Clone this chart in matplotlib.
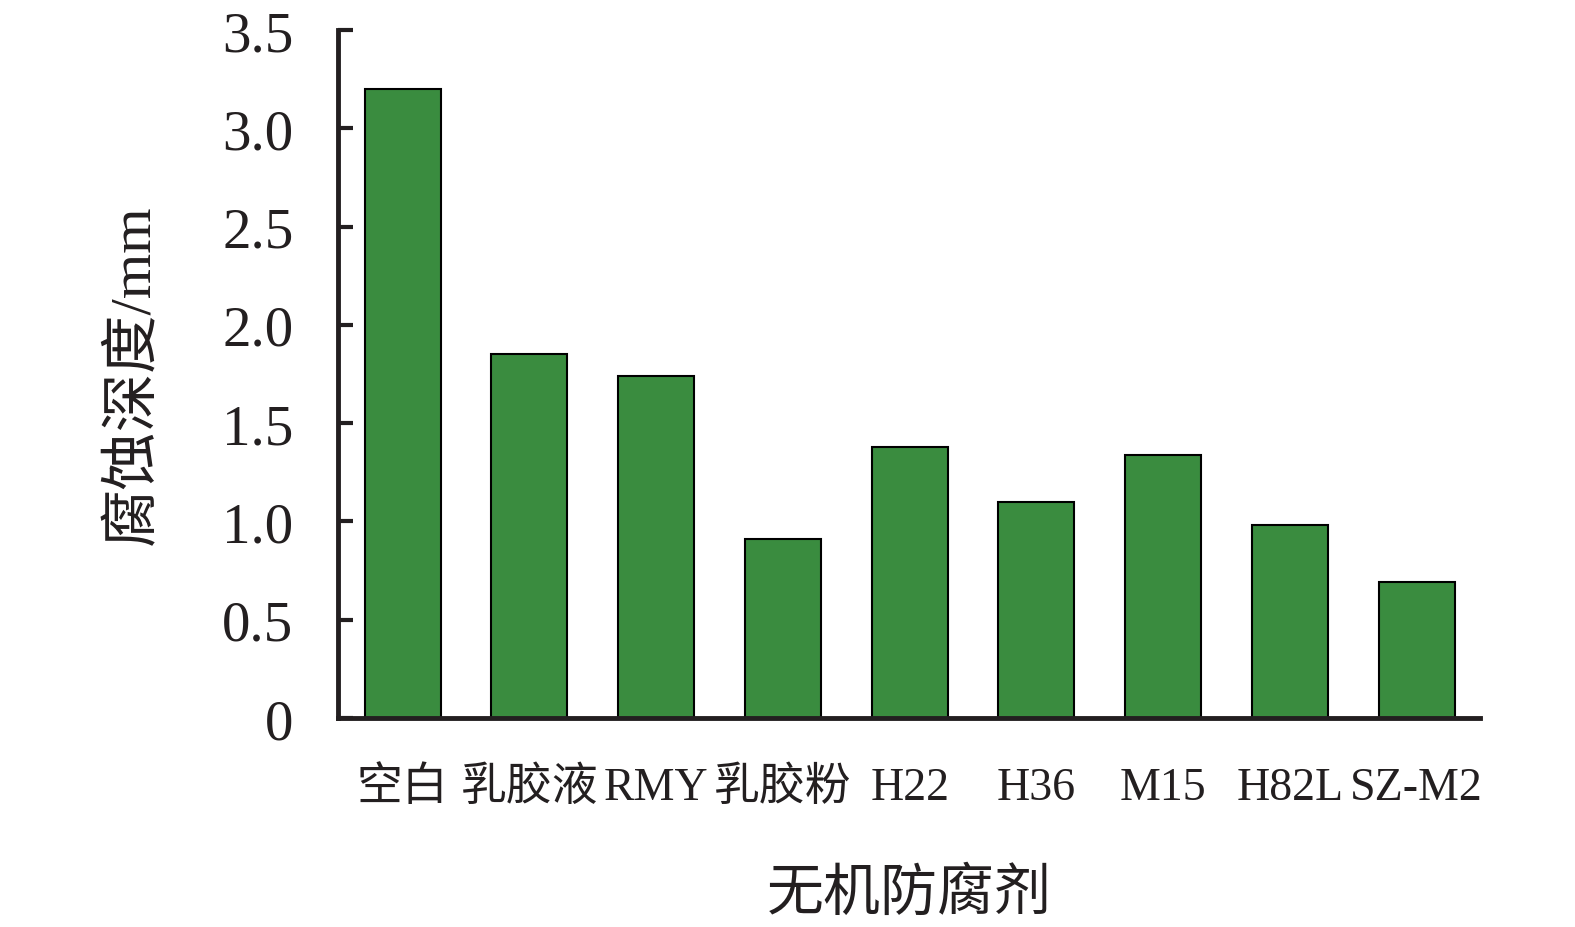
import matplotlib.pyplot as plt

plt.rcParams['font.family'] = ['Liberation Serif', 'Noto Sans CJK SC']

# Data
agents = ['空白', '乳胶液', 'RMY', '乳胶粉', 'H22', 'H36', 'M15', 'H82L', 'SZ-M2']
depth = [3.20, 1.85, 1.74, 0.91, 1.38, 1.10, 1.34, 0.98, 0.69]
y_ticks = [0, 0.5, 1.0, 1.5, 2.0, 2.5, 3.0, 3.5]
y_tick_labels = ['0', '0.5', '1.0', '1.5', '2.0', '2.5', '3.0', '3.5']

fig = plt.figure(figsize=(15.75, 9.28), dpi=100)
ax = fig.add_axes([0.2146, 0.2252, 0.7251, 0.7413])

x = range(len(agents))
ax.bar(x, depth, width=0.6, color='#3a8c3f', edgecolor='black', linewidth=1.5, zorder=2)

ax.set_xlim(-0.51, 8.5)
ax.set_ylim(0, 3.5)
ax.set_xticks(list(x))
ax.set_xticklabels(agents, fontsize=33)
ax.set_yticks(y_ticks)
ax.set_yticklabels(y_tick_labels, fontsize=41)

for s in ['top', 'right']:
    ax.spines[s].set_visible(False)
for s in ['left', 'bottom']:
    ax.spines[s].set_linewidth(3.5)
    ax.spines[s].set_color('#231f20')

ax.tick_params(axis='y', direction='in', length=11, width=3, pad=32, colors='#231f20')
ax.tick_params(axis='x', direction='in', length=7, width=3, pad=35, colors='#231f20')
ax.tick_params(labelcolor='#231f20')

ax.set_xlabel('无机防腐剂', fontsize=41, labelpad=42, color='#231f20')
ax.set_ylabel('腐蚀深度/mm', fontsize=42, labelpad=44, color='#231f20')

fig.savefig('out.png', dpi=100)
